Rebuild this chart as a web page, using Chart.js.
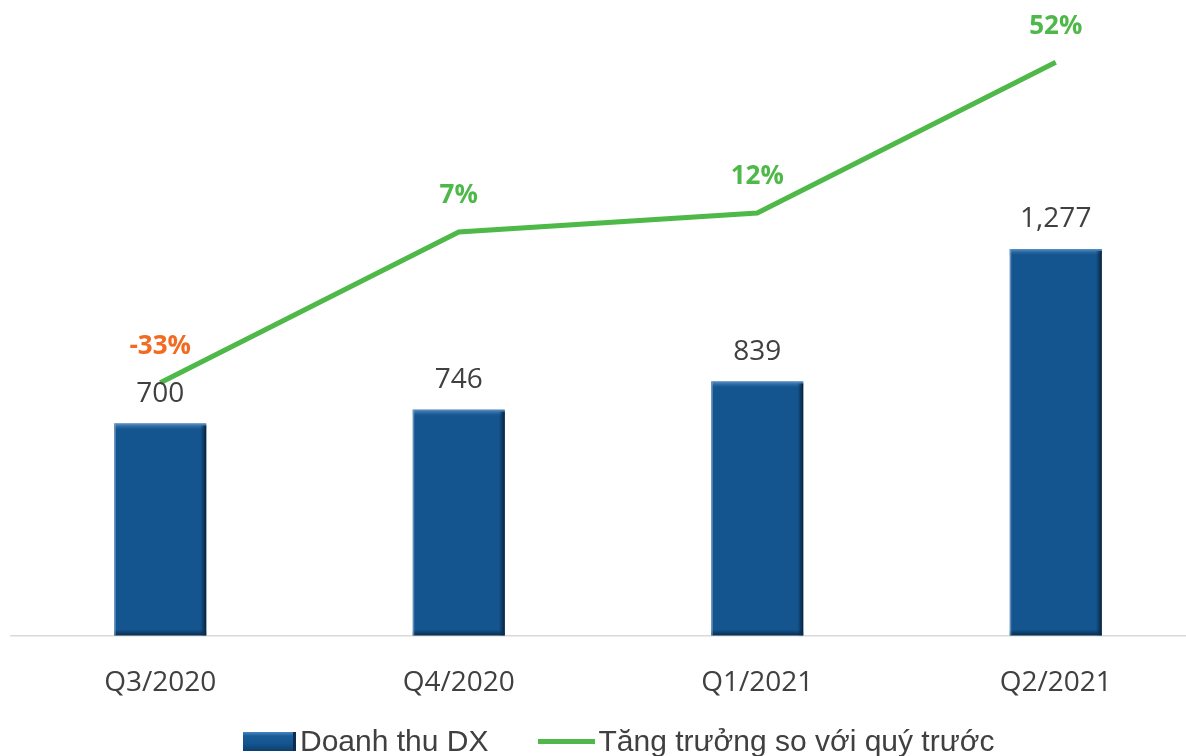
<!DOCTYPE html>
<html>
<head>
<meta charset="utf-8">
<script src="https://cdn.jsdelivr.net/npm/chart.js@4.4.0/dist/chart.umd.min.js"></script>
<style>
  html, body { margin: 0; padding: 0; background: #fff; overflow: hidden; }
  #wrap { position: relative; width: 1186px; height: 756px; overflow: hidden; }
  #box { position: absolute; left: 0; top: 0; width: 1206px; height: 727px; }
  #legend { position: absolute; left: 243px; top: 726px; height: 30px; display: flex; align-items: center;
            font-family: "Liberation Sans", Arial, sans-serif; font-size: 30px; color: #404040; white-space: nowrap; }
  .lg-bar { width: 53px; height: 19px; margin-right: 4px; box-sizing: border-box;
            background: linear-gradient(180deg, #4a86c0 0, #1a5c98 4px, #14558f 60%, #0d3f6e 100%);
            border-right: 3px solid #0a2d50; }
  .lg-line { width: 57px; height: 5px; background: #4eb848; margin-left: 50px; margin-right: 3px; }
</style>
</head>
<body>
<div id="wrap">
  <div id="box"><canvas id="chart"></canvas></div>
  <div id="legend">
    <span class="lg-bar"></span><span>Doanh thu DX</span>
    <span class="lg-line"></span><span>Tăng trưởng so với quý trước</span>
  </div>
</div>
<script>
// du lieu doc tu hinh
const quarters = ['Q3/2020', 'Q4/2020', 'Q1/2021', 'Q2/2021'];
const revenue = [700, 746, 839, 1277];
const growth = [-33, 7, 12, 52];

const barColor = '#14558f';
const lineColor = '#4eb848';
const negColor = '#f26b21';
const textColor = '#404040';

// ve nhan so lieu va hieu ung vat canh cho cot
const labelPlugin = {
    id: 'labels',
    afterDatasetDraw(chart, args) {
        const ctx = chart.ctx;
        const meta = args.meta;
        if (meta.type !== 'bar') return;
        ctx.save();
        meta.data.forEach((bar) => {
            const { x, y, base, width } = bar.getProps(['x', 'y', 'base', 'width'], true);
            const l = x - width / 2, r = x + width / 2;
            // canh tren sang
            const g = ctx.createLinearGradient(0, y, 0, y + 7);
            g.addColorStop(0, '#5b93c8');
            g.addColorStop(1, 'rgba(20,85,143,0)');
            ctx.fillStyle = g;
            ctx.fillRect(l, y, width, 7);
            // canh phai toi
            const g2 = ctx.createLinearGradient(r - 6, 0, r, 0);
            g2.addColorStop(0, 'rgba(10,45,80,0)');
            g2.addColorStop(1, '#071f38');
            ctx.fillStyle = g2;
            ctx.fillRect(r - 6, y + 2, 6, base - y - 2);
            // canh duoi toi
            const g3 = ctx.createLinearGradient(0, base - 6, 0, base);
            g3.addColorStop(0, 'rgba(10,45,80,0)');
            g3.addColorStop(1, '#0a2d50');
            ctx.fillStyle = g3;
            ctx.fillRect(l, base - 6, width, 6);
            // vien trai
            ctx.fillStyle = 'rgba(140,175,210,0.6)';
            ctx.fillRect(l, y, 1.5, base - y);
        });
        ctx.restore();
    },
    afterDatasetsDraw(chart) {
        const ctx = chart.ctx;
        ctx.save();
        ctx.textAlign = 'center';
        ctx.textBaseline = 'middle';
        chart.data.datasets.forEach((ds, di) => {
            const meta = chart.getDatasetMeta(di);
            meta.data.forEach((el, i) => {
                if (meta.type === 'bar') {
                    ctx.font = '28px "Open Sans", sans-serif';
                    ctx.fillStyle = textColor;
                    ctx.fillText(revenue[i].toLocaleString('en-US'), el.x, el.y - 30);
                } else {
                    ctx.font = 'bold 26px "Open Sans", sans-serif';
                    ctx.fillStyle = growth[i] < 0 ? negColor : lineColor;
                    ctx.fillText(growth[i] + '%', el.x, el.y - 36);
                }
            });
        });
        ctx.restore();
    }
};

new Chart(document.getElementById('chart').getContext('2d'), {
    data: {
        labels: quarters,
        datasets: [
            {
                type: 'line',
                label: 'Tăng trưởng so với quý trước',
                data: growth,
                yAxisID: 'y2',
                borderColor: lineColor,
                backgroundColor: lineColor,
                borderWidth: 5,
                pointRadius: 0,
                tension: 0,
                order: 0
            },
            {
                type: 'bar',
                label: 'Doanh thu DX',
                data: revenue,
                yAxisID: 'y',
                backgroundColor: barColor,
                borderWidth: 0,
                categoryPercentage: 1,
                barPercentage: 0.308,
                order: 1
            }
        ]
    },
    options: {
        responsive: true,
        maintainAspectRatio: false,
        animation: false,
        layout: { padding: { left: 11, right: 1, top: 0, bottom: 4 } },
        plugins: {
            legend: { display: false },
            tooltip: { enabled: false }
        },
        scales: {
            x: {
                grid: { display: false },
                border: { display: true, color: '#d9d9d9', width: 1.5 },
                ticks: {
                    color: textColor,
                    padding: 23,
                    font: { family: '"Open Sans", sans-serif', size: 28 }
                }
            },
            y: { display: false, min: 0, max: 2100 },
            y2: { display: false, min: -100, max: 68.5 }
        }
    },
    plugins: [labelPlugin]
});
</script>
</body>
</html>
